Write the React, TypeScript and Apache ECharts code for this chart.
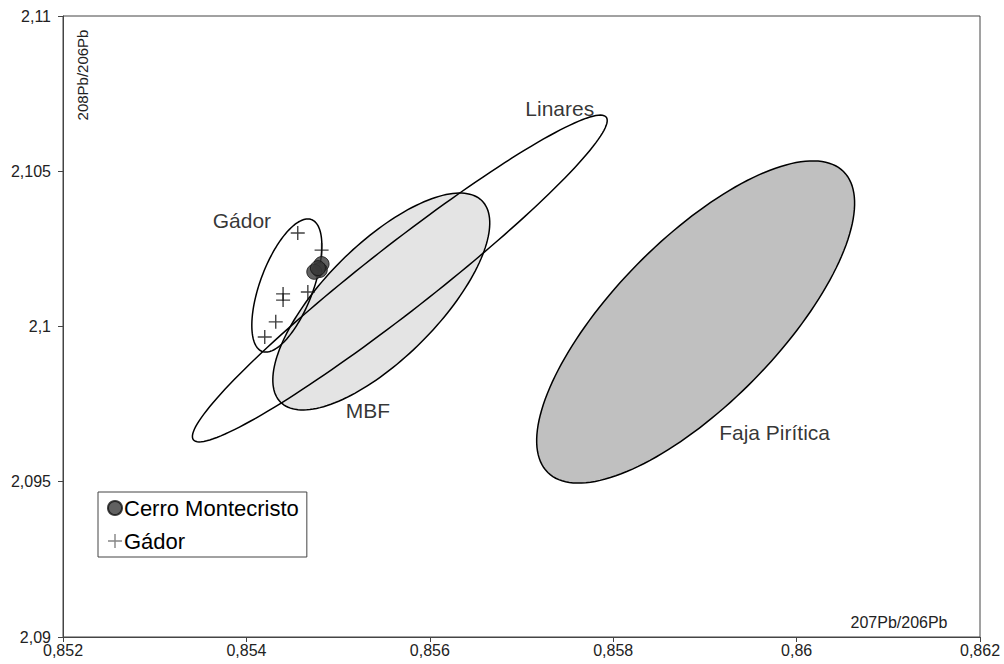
import React, { useEffect, useRef } from "react";
import * as echarts from "echarts";

// Axis ranges and ticks
const xMin = 0.852;
const xMax = 0.862;
const xStep = 0.002;
const yMin = 2.09;
const yMax = 2.11;
const yStep = 0.005;

// Point series
const cerroX = [0.85482, 0.8548, 0.85474, 0.85478];
const cerroY = [2.10201, 2.10182, 2.10176, 2.10188];
const gadorX = [0.85456, 0.85482, 0.8544, 0.8544, 0.85467, 0.85432, 0.8542];
const gadorY = [2.10301, 2.10246, 2.10105, 2.10085, 2.10111, 2.10015, 2.09966];

// Ellipses: [centerX, centerY, majorEndX, majorEndY, minorEndX, minorEndY]
const fajaEllipse = [0.858899, 2.100145, 0.860511, 2.104992, 0.859537, 2.098293];
const mbfEllipse = [0.855471, 2.100805, 0.856569, 2.104048, 0.855911, 2.099507];
const linaresEllipse = [0.855673, 2.101546, 0.857924, 2.106741, 0.855894, 2.100709];
const gadorEllipse = [0.854441, 2.10132, 0.85471, 2.103443, 0.854712, 2.101021];

// Region labels
const labelNames = ["Linares", "Gádor", "MBF", "Faja Pirítica"];
const labelX = [0.857417, 0.853951, 0.855324, 0.85976];
const labelY = [2.107037, 2.103398, 2.097279, 2.096602];

const FONT = "'Liberation Sans', Arial, sans-serif";
const PLUS = "path://M-1,-10 h2 v9 h9 v2 h-9 v9 h-2 v-9 h-9 v-2 h9 z";

const fmt = (v: number) => String(+v.toFixed(4)).replace(".", ",");

function ellipseSeries(name: string, vals: number[], fill: string, z: number) {
  return {
    name,
    type: "custom",
    z,
    silent: true,
    data: [vals],
    encode: { x: [0, 2, 4], y: [1, 3, 5] },
    renderItem: (_params: any, api: any) => {
      const c = api.coord([api.value(0), api.value(1)]);
      const a = api.coord([api.value(2), api.value(3)]);
      const b = api.coord([api.value(4), api.value(5)]);
      const ux = a[0] - c[0];
      const uy = a[1] - c[1];
      const vx = b[0] - c[0];
      const vy = b[1] - c[1];
      const pts: number[][] = [];
      const n = 160;
      for (let i = 0; i < n; i++) {
        const t = (2 * Math.PI * i) / n;
        const ct = Math.cos(t);
        const st = Math.sin(t);
        pts.push([c[0] + ux * ct + vx * st, c[1] + uy * ct + vy * st]);
      }
      return {
        type: "polygon",
        shape: { points: pts },
        style: { fill, stroke: "#000", lineWidth: 1.5 },
      };
    },
  };
}

export default function App() {
  const ref = useRef<HTMLDivElement>(null);

  useEffect(() => {
    if (!ref.current) return;
    const chart = echarts.init(ref.current, undefined, { renderer: "svg" });
    const option: any = {
      animation: false,
      backgroundColor: "#ffffff",
      textStyle: { fontFamily: FONT },
      grid: {
        left: 63,
        right: 24,
        top: 16,
        bottom: 27,
        show: true,
        borderColor: "#444",
        borderWidth: 1,
        containLabel: false,
      },
      xAxis: {
        type: "value",
        min: xMin,
        max: xMax,
        interval: xStep,
        axisLine: { show: true, onZero: false, lineStyle: { color: "#444", width: 1 } },
        axisTick: { show: true, length: 5, lineStyle: { color: "#444" } },
        splitLine: { show: false },
        axisLabel: {
          show: true,
          showMinLabel: true,
          showMaxLabel: true,
          fontSize: 16,
          color: "#222",
          margin: 5,
          fontFamily: FONT,
          formatter: fmt,
        },
      },
      yAxis: {
        type: "value",
        min: yMin,
        max: yMax,
        interval: yStep,
        axisLine: { show: true, onZero: false, lineStyle: { color: "#444", width: 1 } },
        axisTick: { show: true, length: 5, lineStyle: { color: "#444" } },
        splitLine: { show: false },
        axisLabel: {
          show: true,
          showMinLabel: true,
          showMaxLabel: true,
          fontSize: 16,
          color: "#222",
          margin: 12,
          fontFamily: FONT,
          formatter: fmt,
        },
      },
      legend: {
        orient: "vertical",
        left: 98,
        top: 492,
        padding: [5, 8, 5, 9],
        itemGap: 11,
        itemWidth: 14,
        itemHeight: 14,
        backgroundColor: "#fff",
        borderColor: "#444",
        borderWidth: 1,
        borderRadius: 0,
        textStyle: { fontSize: 22, color: "#000", fontFamily: FONT, padding: [0, 0, 0, -3] },
        data: [
          { name: "Cerro Montecristo", icon: "circle" },
          { name: "Gádor", icon: PLUS, itemStyle: { color: "#666" } },
        ],
      },
      graphic: [
        {
          type: "text",
          x: 82,
          y: 75,
          rotation: Math.PI / 2,
          style: {
            text: "208Pb/206Pb",
            font: `15px ${FONT}`,
            fill: "#222",
            align: "center",
            verticalAlign: "middle",
          },
        },
        {
          type: "text",
          x: 899,
          y: 622,
          style: {
            text: "207Pb/206Pb",
            font: `16px ${FONT}`,
            fill: "#222",
            align: "center",
            verticalAlign: "middle",
          },
        },
      ],
      series: [
        ellipseSeries("Faja Pirítica", fajaEllipse, "#c0c0c0", 1),
        ellipseSeries("MBF", mbfEllipse, "#e4e4e4", 2),
        ellipseSeries("Linares", linaresEllipse, "none", 3),
        ellipseSeries("GádorRegion", gadorEllipse, "none", 4),
        {
          name: "Gádor",
          type: "scatter",
          z: 5,
          symbol: PLUS,
          symbolSize: 14,
          itemStyle: { color: "#111" },
          data: gadorX.map((x, i) => [x, gadorY[i]]),
        },
        {
          name: "Cerro Montecristo",
          type: "scatter",
          z: 6,
          symbol: "circle",
          symbolSize: 15,
          itemStyle: { color: "#3a3a3a", borderColor: "#111", borderWidth: 1 },
          data: cerroX.map((x, i) => [x, cerroY[i]]),
        },
        {
          name: "labels",
          type: "scatter",
          z: 7,
          symbolSize: 1,
          silent: true,
          itemStyle: { color: "rgba(0,0,0,0)" },
          label: {
            show: true,
            position: "inside",
            formatter: "{b}",
            fontSize: 21,
            color: "#000",
            fontFamily: FONT,
          },
          labelLayout: { hideOverlap: false },
          data: labelNames.map((n, i) => ({ name: n, value: [labelX[i], labelY[i]] })),
        },
      ],
    };
    chart.setOption(option);
    return () => chart.dispose();
  }, []);

  return (
    <div
      ref={ref}
      style={{ position: "absolute", left: 0, top: 0, width: 1004, height: 664 }}
    />
  );
}
